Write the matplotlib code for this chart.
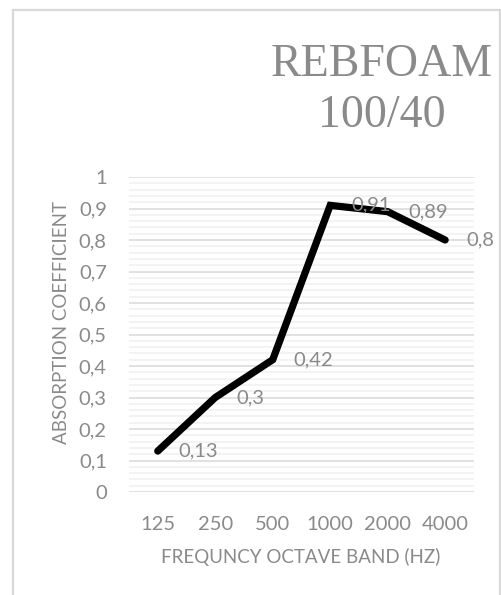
import matplotlib.pyplot as plt
from matplotlib.patches import Rectangle
from matplotlib.ticker import MultipleLocator, FixedLocator

bands = ['125', '250', '500', '1000', '2000', '4000']
absorption = [0.13, 0.30, 0.42, 0.91, 0.89, 0.80]
point_labels = ['0,13', '0,3', '0,42', '0,91', '0,89', '0,8']
y_ticks = [0, 0.1, 0.2, 0.3, 0.4, 0.5, 0.6, 0.7, 0.8, 0.9, 1.0]
y_tick_labels = ['0', '0,1', '0,2', '0,3', '0,4', '0,5', '0,6', '0,7', '0,8', '0,9', '1']

grey = '#8a8a8a'
plt.rcParams['font.family'] = ['Lato', 'DejaVu Sans']

fig = plt.figure(figsize=(5.02, 5.95), dpi=100)
ax = fig.add_axes([0.257, 0.1731, 0.687, 0.5294])

# chart frame
fig.patches.append(Rectangle((13 / 502, -0.05), 487 / 502, 1.05 - 10 / 595,
                             transform=fig.transFigure, fill=False,
                             edgecolor='#d9d9d9', linewidth=1.6))

x = list(range(len(bands)))
ax.plot(x, absorption, color='black', linewidth=5.2,
        solid_capstyle='round', solid_joinstyle='miter', zorder=3)

for xi, yi, lab in zip(x, absorption, point_labels):
    ax.annotate(lab, (xi, yi), xytext=(15, 0), textcoords='offset points',
                ha='left', va='center', fontsize=14.5, color=grey, zorder=4)

ax.set_xlim(-0.5, 5.5)
ax.set_ylim(0, 1)
ax.set_xticks(x)
ax.set_xticklabels(bands)
ax.yaxis.set_major_locator(FixedLocator(y_ticks))
ax.set_yticklabels(y_tick_labels)
ax.yaxis.set_minor_locator(MultipleLocator(0.02))

ax.grid(axis='y', which='major', color='#d9d9d9', linewidth=1.1)
ax.grid(axis='y', which='minor', color='#f0f0f0', linewidth=1.1)
ax.set_axisbelow(True)
for s in ax.spines.values():
    s.set_visible(False)
ax.tick_params(axis='both', which='both', length=0, labelsize=14.5, labelcolor=grey)
ax.tick_params(axis='y', pad=16)
ax.tick_params(axis='x', pad=17)

fig.text(301 / 502, 1 - 557 / 595, 'FREQUNCY OCTAVE BAND (HZ)', ha='center',
         va='center', fontsize=13.5, color=grey)
fig.text(62 / 502, 1 - 322 / 595, 'ABSORPTION COEFFICIENT', ha='center',
         va='center', rotation=90, fontsize=13.5, color=grey)
fig.text(382 / 502, 1 - 90 / 595, 'REBFOAM\n100/40', ha='center', va='center',
         fontsize=33, color=grey, family='Liberation Serif', linespacing=1.25)

fig.savefig('out.png', dpi=100)
